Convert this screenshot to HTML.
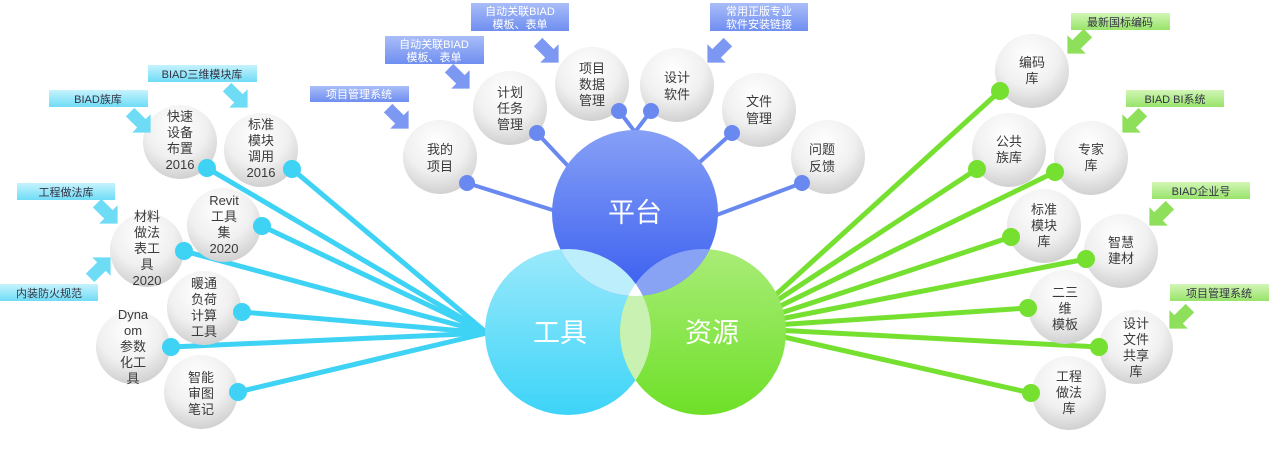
<!DOCTYPE html>
<html><head><meta charset="utf-8"><style>
body{margin:0;background:#fff;}
svg{display:block;font-family:"Liberation Sans","Noto Sans CJK SC",sans-serif;}
.n{font-size:13px;fill:#3a3a3a;text-anchor:middle;}
.lb{font-size:11px;text-anchor:middle;}
.big{font-size:27px;fill:#fff;text-anchor:middle;}
</style></head><body>
<svg width="1269" height="461" viewBox="0 0 1269 461" xmlns="http://www.w3.org/2000/svg">
<defs>
<radialGradient id="bub" cx="0.45" cy="0.3" r="0.75">
<stop offset="0" stop-color="#ffffff"/><stop offset="0.55" stop-color="#f0f0f0"/><stop offset="1" stop-color="#cbcbcb"/></radialGradient>
<linearGradient id="gb" x1="0" y1="0" x2="0" y2="1"><stop offset="0" stop-color="#86a0f6"/><stop offset="1" stop-color="#3a5ef0"/></linearGradient>
<linearGradient id="gc" x1="0" y1="0" x2="0" y2="1"><stop offset="0" stop-color="#9ae9fa"/><stop offset="1" stop-color="#3dd4f8"/></linearGradient>
<linearGradient id="gg" x1="0" y1="0" x2="0" y2="1"><stop offset="0" stop-color="#a9ec78"/><stop offset="1" stop-color="#6ee028"/></linearGradient>
<linearGradient id="lbB" x1="0" y1="0" x2="0" y2="1"><stop offset="0" stop-color="#a9bdf8"/><stop offset="1" stop-color="#6f8ef0"/></linearGradient>
<linearGradient id="lbC" x1="0" y1="0" x2="0" y2="1"><stop offset="0" stop-color="#c6f3fd"/><stop offset="1" stop-color="#6fdcf6"/></linearGradient>
<linearGradient id="lbG" x1="0" y1="0" x2="0" y2="1"><stop offset="0" stop-color="#d2f6b6"/><stop offset="1" stop-color="#98e36a"/></linearGradient>
<clipPath id="cpP"><circle cx="635" cy="213" r="83"/></clipPath>
<clipPath id="cpT"><circle cx="568" cy="332" r="83"/></clipPath>
<clipPath id="cpR"><circle cx="703" cy="332" r="83"/></clipPath>
<g id="arr"><polygon points="-6,-14 6,-14 6,2 13,2 0,15 -13,2 -6,2"/></g>
</defs>

<g stroke="#3ed2f4" stroke-width="5" fill="none">
<line x1="207" y1="168" x2="487" y2="333"/><line x1="292" y1="169" x2="487" y2="333"/>
<line x1="262" y1="226" x2="487" y2="333"/><line x1="184" y1="251" x2="487" y2="333"/>
<line x1="242" y1="312" x2="487" y2="333"/><line x1="171" y1="347" x2="487" y2="333"/>
<line x1="238" y1="392" x2="487" y2="333"/>
</g>
<g stroke="#6a89f0" stroke-width="4" fill="none">
<line x1="467" y1="183" x2="600" y2="225"/><line x1="537" y1="133" x2="600" y2="200"/>
<line x1="619" y1="111" x2="635" y2="132"/><line x1="651" y1="111" x2="635" y2="132"/>
<line x1="732" y1="133" x2="680" y2="180"/><line x1="802" y1="183" x2="690" y2="225"/>
</g>
<g stroke="#76e030" stroke-width="5" fill="none">
<line x1="1000" y1="91" x2="770" y2="300"/><line x1="977" y1="169" x2="770" y2="305"/>
<line x1="1055" y1="172" x2="772" y2="310"/><line x1="1011" y1="237" x2="775" y2="315"/>
<line x1="1086" y1="259" x2="775" y2="320"/><line x1="1028" y1="308" x2="775" y2="325"/>
<line x1="1099" y1="347" x2="775" y2="330"/><line x1="1031" y1="393" x2="775" y2="335"/>
</g>

<circle cx="568" cy="332" r="83" fill="url(#gc)"/>
<circle cx="703" cy="332" r="83" fill="url(#gg)"/>
<circle cx="635" cy="213" r="83" fill="url(#gb)"/>
<g clip-path="url(#cpP)"><circle cx="568" cy="332" r="83" fill="#bdeefb"/><circle cx="703" cy="332" r="83" fill="#89a3f4"/></g>
<g clip-path="url(#cpT)"><circle cx="703" cy="332" r="83" fill="#c9f2b2"/></g>
<g clip-path="url(#cpP)"><g clip-path="url(#cpT)"><circle cx="703" cy="332" r="83" fill="#fff"/></g></g>
<text class="big" x="635" y="222">平台</text>
<text class="big" x="560" y="342">工具</text>
<text class="big" x="712" y="342">资源</text>

<g fill="url(#bub)">
<circle cx="180" cy="142" r="37"/><circle cx="261" cy="150" r="37"/>
<circle cx="224" cy="225" r="37"/><circle cx="147" cy="250" r="37"/>
<circle cx="204" cy="308" r="37"/><circle cx="133" cy="347" r="37"/>
<circle cx="201" cy="392" r="37"/>
<circle cx="440" cy="157" r="37"/><circle cx="510" cy="108" r="37"/>
<circle cx="592" cy="84" r="37"/><circle cx="677" cy="85" r="37"/>
<circle cx="759" cy="110" r="37"/><circle cx="828" cy="157" r="37"/>
<circle cx="1032" cy="71" r="37"/><circle cx="1009" cy="150" r="37"/>
<circle cx="1091" cy="158" r="37"/><circle cx="1044" cy="226" r="37"/>
<circle cx="1121" cy="251" r="37"/><circle cx="1065" cy="307" r="37"/>
<circle cx="1136" cy="347" r="37"/><circle cx="1069" cy="393" r="37"/>
</g>
<g fill="#3ed2f4">
<circle cx="207" cy="168" r="9"/><circle cx="292" cy="169" r="9"/><circle cx="262" cy="226" r="9"/>
<circle cx="184" cy="251" r="9"/><circle cx="242" cy="312" r="9"/><circle cx="171" cy="347" r="9"/><circle cx="238" cy="392" r="9"/>
</g>
<g fill="#6a89f0">
<circle cx="467" cy="183" r="8"/><circle cx="537" cy="133" r="8"/><circle cx="619" cy="111" r="8"/>
<circle cx="651" cy="111" r="8"/><circle cx="732" cy="133" r="8"/><circle cx="802" cy="183" r="8"/>
</g>
<g fill="#76e030">
<circle cx="1000" cy="91" r="9"/><circle cx="977" cy="169" r="9"/><circle cx="1055" cy="172" r="9"/>
<circle cx="1011" cy="237" r="9"/><circle cx="1086" cy="259" r="9"/><circle cx="1028" cy="308" r="9"/>
<circle cx="1099" cy="347" r="9"/><circle cx="1031" cy="393" r="9"/>
</g>

<g class="n">
<text x="180" y="121"><tspan x="180">快速</tspan><tspan x="180" dy="16">设备</tspan><tspan x="180" dy="16">布置</tspan><tspan x="180" dy="16">2016</tspan></text>
<text x="261" y="129"><tspan x="261">标准</tspan><tspan x="261" dy="16">模块</tspan><tspan x="261" dy="16">调用</tspan><tspan x="261" dy="16">2016</tspan></text>
<text x="224" y="205"><tspan x="224">Revit</tspan><tspan x="224" dy="16">工具</tspan><tspan x="224" dy="16">集</tspan><tspan x="224" dy="16">2020</tspan></text>
<text x="147" y="221"><tspan x="147">材料</tspan><tspan x="147" dy="16">做法</tspan><tspan x="147" dy="16">表工</tspan><tspan x="147" dy="16">具</tspan><tspan x="147" dy="16">2020</tspan></text>
<text x="204" y="288"><tspan x="204">暖通</tspan><tspan x="204" dy="16">负荷</tspan><tspan x="204" dy="16">计算</tspan><tspan x="204" dy="16">工具</tspan></text>
<text x="133" y="319"><tspan x="133">Dyna</tspan><tspan x="133" dy="16">om</tspan><tspan x="133" dy="16">参数</tspan><tspan x="133" dy="16">化工</tspan><tspan x="133" dy="16">具</tspan></text>
<text x="201" y="382"><tspan x="201">智能</tspan><tspan x="201" dy="16">审图</tspan><tspan x="201" dy="16">笔记</tspan></text>
<text x="440" y="154"><tspan x="440">我的</tspan><tspan x="440" dy="17">项目</tspan></text>
<text x="510" y="97"><tspan x="510">计划</tspan><tspan x="510" dy="16">任务</tspan><tspan x="510" dy="16">管理</tspan></text>
<text x="592" y="73"><tspan x="592">项目</tspan><tspan x="592" dy="16">数据</tspan><tspan x="592" dy="16">管理</tspan></text>
<text x="677" y="82"><tspan x="677">设计</tspan><tspan x="677" dy="17">软件</tspan></text>
<text x="759" y="106"><tspan x="759">文件</tspan><tspan x="759" dy="17">管理</tspan></text>
<text x="822" y="154"><tspan x="822">问题</tspan><tspan x="822" dy="17">反馈</tspan></text>
<text x="1032" y="67"><tspan x="1032">编码</tspan><tspan x="1032" dy="16">库</tspan></text>
<text x="1009" y="146"><tspan x="1009">公共</tspan><tspan x="1009" dy="16">族库</tspan></text>
<text x="1091" y="154"><tspan x="1091">专家</tspan><tspan x="1091" dy="16">库</tspan></text>
<text x="1044" y="214"><tspan x="1044">标准</tspan><tspan x="1044" dy="16">模块</tspan><tspan x="1044" dy="16">库</tspan></text>
<text x="1121" y="247"><tspan x="1121">智慧</tspan><tspan x="1121" dy="16">建材</tspan></text>
<text x="1065" y="297"><tspan x="1065">二三</tspan><tspan x="1065" dy="16">维</tspan><tspan x="1065" dy="16">模板</tspan></text>
<text x="1136" y="328"><tspan x="1136">设计</tspan><tspan x="1136" dy="16">文件</tspan><tspan x="1136" dy="16">共享</tspan><tspan x="1136" dy="16">库</tspan></text>
<text x="1069" y="381"><tspan x="1069">工程</tspan><tspan x="1069" dy="16">做法</tspan><tspan x="1069" dy="16">库</tspan></text>
</g>

<g>
<rect x="148" y="65" width="109" height="17" fill="url(#lbC)"/><text class="lb" x="202" y="78" fill="#334">BIAD三维模块库</text>
<rect x="49" y="90" width="99" height="17" fill="url(#lbC)"/><text class="lb" x="98" y="103" fill="#334">BIAD族库</text>
<rect x="17" y="183" width="98" height="17" fill="url(#lbC)"/><text class="lb" x="66" y="196" fill="#334">工程做法库</text>
<rect x="0" y="284" width="98" height="17" fill="url(#lbC)"/><text class="lb" x="49" y="297" fill="#334">内装防火规范</text>
<rect x="310" y="86" width="99" height="16" fill="url(#lbB)"/><text class="lb" x="359" y="98" fill="#fff">项目管理系统</text>
<rect x="385" y="36" width="99" height="28" fill="url(#lbB)"/><text class="lb" x="434" y="48" fill="#fff">自动关联BIAD</text><text class="lb" x="434" y="61" fill="#fff">模板、表单</text>
<rect x="471" y="3" width="98" height="28" fill="url(#lbB)"/><text class="lb" x="520" y="15" fill="#fff">自动关联BIAD</text><text class="lb" x="520" y="28" fill="#fff">模板、表单</text>
<rect x="710" y="3" width="98" height="28" fill="url(#lbB)"/><text class="lb" x="759" y="15" fill="#fff">常用正版专业</text><text class="lb" x="759" y="28" fill="#fff">软件安装链接</text>
<rect x="1071" y="13" width="99" height="17" fill="url(#lbG)"/><text class="lb" x="1120" y="26" fill="#334">最新国标编码</text>
<rect x="1126" y="90" width="98" height="17" fill="url(#lbG)"/><text class="lb" x="1175" y="103" fill="#334">BIAD BI系统</text>
<rect x="1152" y="182" width="98" height="17" fill="url(#lbG)"/><text class="lb" x="1201" y="195" fill="#334">BIAD企业号</text>
<rect x="1170" y="284" width="99" height="17" fill="url(#lbG)"/><text class="lb" x="1219" y="297" fill="#334">项目管理系统</text>
</g>

<g fill="#6fdcf6">
<use href="#arr" transform="translate(237,97) rotate(-45)"/>
<use href="#arr" transform="translate(140,122) rotate(-45)"/>
<use href="#arr" transform="translate(107,213) rotate(-45)"/>
<use href="#arr" transform="translate(100,268) rotate(-135)"/>
</g>
<g fill="#7c98f2">
<use href="#arr" transform="translate(398,118) rotate(-45)"/>
<use href="#arr" transform="translate(459,78) rotate(-45)"/>
<use href="#arr" transform="translate(548,52) rotate(-45)"/>
<use href="#arr" transform="translate(718,52) rotate(45)"/>
</g>
<g fill="#8ee05a">
<use href="#arr" transform="translate(1078,43) rotate(45)"/>
<use href="#arr" transform="translate(1133,122) rotate(45)"/>
<use href="#arr" transform="translate(1160,215) rotate(45)"/>
<use href="#arr" transform="translate(1180,318) rotate(45)"/>
</g>
</svg>
</body></html>
